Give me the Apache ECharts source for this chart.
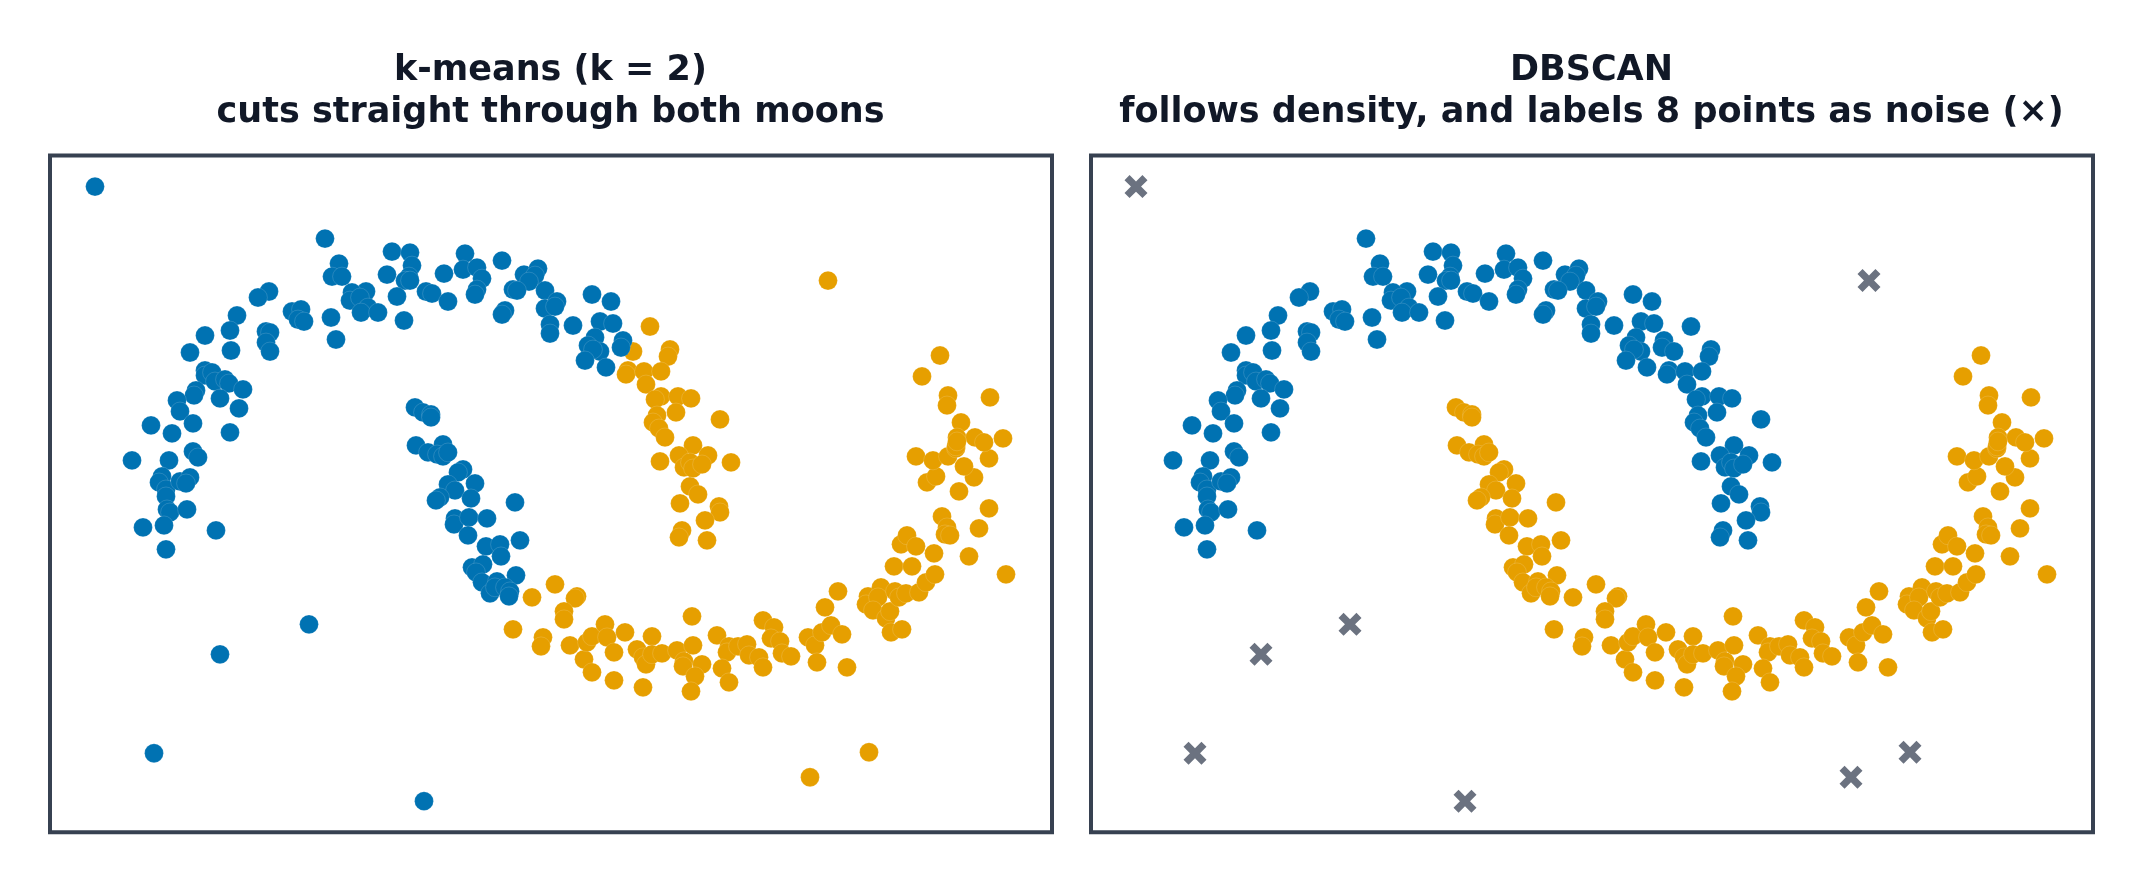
<!DOCTYPE html>
<html><head><meta charset="utf-8">
<style>html,body{margin:0;padding:0;background:#fff}#c{width:2142px;height:883px}</style>
<script src="https://cdn.jsdelivr.net/npm/echarts@6/dist/echarts.min.js"></script>
</head><body><div id="c"></div>
<script>
// Values, on an unlabelled plot scale: x 0..1002, y 0..677 (downwards).
const upperMoonA = [[275,83],[289,108],[282,121],[292,121],[342,96],[360,97],[362,110],[337,119],[359,121],[355,125],[360,125],[394,118],[415,98],[413,114],[427,112],[432,123],[452,105],[474,119],[488,113],[485,120],[479,126],[463,134],[467,135],[495,135],[376,136],[382,138],[347,141],[398,146],[427,134],[425,139],[455,155],[452,159],[495,153],[507,146],[505,151],[500,169],[500,178],[316,136],[302,137],[300,145],[310,142],[318,152],[311,157],[328,157],[354,165],[281,162],[286,184],[219,136],[208,142],[242,156],[251,154],[248,164],[254,166],[187,160],[180,175],[155,180],[216,176],[220,177],[216,187],[220,196],[181,195],[140,197],[155,215],[155,220],[162,217],[165,226],[175,224],[179,228],[193,234],[146,235],[144,240],[127,245],[170,243],[189,253],[130,256],[101,270],[122,278],[143,268],[180,277],[143,296],[148,302],[82,305],[119,305],[112,321],[109,327],[116,334],[116,341],[117,354],[120,357],[137,354],[130,326],[140,322],[136,328],[93,372],[114,370],[166,375],[116,394],[542,139],[561,146],[523,170],[550,166],[563,168],[545,182],[538,190],[573,185],[571,192],[550,196],[543,194],[535,205],[556,212]];
const upperMoonB = [[600,171],[620,194],[618,201],[583,196],[578,215],[576,219],[594,216],[611,216],[596,229],[611,241],[605,244],[628,241],[641,243],[626,257],[670,264],[607,260],[603,267],[609,273],[615,282],[643,290],[629,300],[658,300],[610,306],[681,307],[634,312],[640,307],[643,313],[652,309],[640,331],[648,339],[630,348],[669,351],[670,357],[655,365],[632,375],[629,382],[657,385]];
const lowerMoonA = [[365,252],[373,257],[381,259],[381,262],[366,290],[378,297],[393,289],[387,299],[393,301],[398,297],[413,314],[408,317],[425,328],[398,329],[405,335],[390,342],[386,345],[421,343],[465,347],[405,363],[404,369],[419,362],[437,363],[418,380],[436,391],[450,389],[451,401],[470,385],[422,412],[433,409],[426,417],[432,427],[447,426],[466,420],[440,438],[445,432],[455,432],[460,436],[459,441]];
const lowerMoonB = [[482,442],[463,474],[493,482],[491,491],[505,429],[527,441],[525,443],[514,456],[514,464],[520,490],[534,504],[542,517],[537,487],[542,481],[555,469],[557,482],[564,497],[564,525],[575,477],[587,494],[593,502],[596,509],[602,481],[602,499],[612,498],[593,532],[627,495],[634,506],[633,511],[642,461],[643,490],[652,509],[645,521],[641,536],[667,480],[679,491],[677,497],[688,491],[697,489],[699,500],[709,502],[713,512],[672,513],[679,527],[713,465],[724,472],[721,483],[730,486],[732,498],[741,501],[758,482],[765,490],[772,477],[781,470],[792,479],[767,507],[797,512],[775,452],[788,436],[818,441],[831,432],[816,449],[828,442],[823,455],[836,463],[840,456],[841,477],[852,474],[845,436],[849,442],[856,438],[869,437],[876,427],[885,419],[844,411],[862,411],[884,398],[851,389],[857,380],[866,391],[919,401],[956,419],[929,373],[939,353],[892,361],[897,372],[895,379],[900,380],[909,336],[877,327],[886,321],[924,322],[914,311],[866,301],[883,305],[898,301],[906,293],[939,303],[890,200],[872,221],[898,240],[897,250],[940,242],[911,267],[907,282],[925,282],[934,287],[953,283],[906,291],[907,286]];
const noiseA = [[45,31],[259,469],[170,499],[104,598],[374,646]];
const noiseB = [[778,125],[819,597],[760,622]];
const titleLeft = "k-means (k = 2)\ncuts straight through both moons";
const titleRight = "DBSCAN\nfollows density, and labels 8 points as noise (×)";

const BLUE = '#0072B2', ORANGE = '#E69F00', GREY = '#6B7280', INK = '#111827', FRAME = '#374151';
const crossPath = 'path://M22 0L50 28L78 0L100 22L72 50L100 78L78 100L50 72L22 100L0 78L28 50L0 22Z';
const panels = [{left:50,title:titleLeft},{left:1091,title:titleRight}];
const dots = (name,data,color,idx) => ({type:'scatter',name,data,xAxisIndex:idx,yAxisIndex:idx,symbol:'circle',symbolSize:18.8,
  silent:true,itemStyle:{color,opacity:1,borderColor:'#fff',borderWidth:0.15}});
const option = {
  animation:false, backgroundColor:'#fff',
  title: panels.map(p=>({text:p.title,left:p.left+500.5,top:50,textAlign:'center',padding:0,
    textStyle:{fontFamily:'DejaVu Sans',fontWeight:'bold',fontSize:35,lineHeight:42,color:INK}})),
  grid: panels.map(p=>({left:p.left,top:155.6,width:1002,height:676.6,show:true,backgroundColor:'#fff',borderColor:FRAME,borderWidth:4})),
  xAxis: panels.map((p,i)=>({type:'value',gridIndex:i,min:0,max:1002,show:false,splitLine:{show:false}})),
  yAxis: panels.map((p,i)=>({type:'value',gridIndex:i,min:0,max:677,inverse:true,show:false,splitLine:{show:false}})),
  series:[
    dots('k-means cluster 2',[...upperMoonB,...lowerMoonB,...noiseB],ORANGE,0),
    dots('k-means cluster 1',[...upperMoonA,...lowerMoonA,...noiseA],BLUE,0),
    dots('DBSCAN cluster 2',[...lowerMoonA,...lowerMoonB],ORANGE,1),
    dots('DBSCAN cluster 1',[...upperMoonA,...upperMoonB],BLUE,1),
    {type:'scatter',name:'noise',data:[...noiseA,...noiseB],xAxisIndex:1,yAxisIndex:1,symbol:crossPath,symbolSize:23,silent:true,itemStyle:{color:GREY,opacity:1}}
  ]
};
echarts.init(document.getElementById('c'),null,{renderer:'canvas'}).setOption(option);
</script></body></html>
